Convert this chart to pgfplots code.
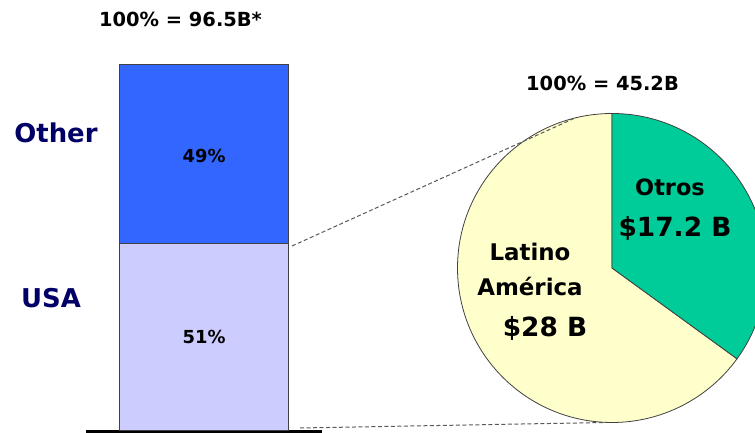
\documentclass[border=0pt]{standalone}
\usepackage{pgfplots}
\pgfplotsset{compat=1.18}
\usepackage{fontspec}
\setmainfont{DejaVu Sans}

\definecolor{otherblue}{HTML}{3366FF}
\definecolor{usalav}{HTML}{CCCCFF}
\definecolor{otrosgreen}{HTML}{00CC99}
\definecolor{latamyellow}{HTML}{FFFFCC}
\definecolor{navy}{HTML}{000066}
\definecolor{txt}{HTML}{1E1E1E}

% pie shares as drawn (Otros vs Latino America)
\def\shareOtros{35}

\begin{document}
\begin{tikzpicture}[x=1bp,y=1bp,font=\bfseries\color{txt}]
\useasboundingbox (0,0) rectangle (755,433);
\clip (0,0) rectangle (755,433);

% stacked bar: USA vs Other
\begin{axis}[
    at={(86bp,3bp)}, anchor=south west,
    scale only axis, width=236bp, height=366bp,
    xmin=0, xmax=1, ymin=0, ymax=100,
    hide axis, clip=false,
    ybar stacked, bar width=169bp,
]
\addplot[fill=usalav, draw=black!75, line width=0.8bp] coordinates {(0.5,51)};
\addplot[fill=otherblue, draw=black!75, line width=0.8bp] coordinates {(0.5,49)};
\coordinate (pUSA) at (axis cs:0.5,25.5);
\coordinate (pOther) at (axis cs:0.5,75);
\draw[line width=2.6bp] (axis cs:0,0) ++(0,-1.5bp) -- ++(236bp,0);
\end{axis}
\node[font=\fontsize{18}{21}\bfseries] at (pUSA) {51\%};
\node[font=\fontsize{18}{21}\bfseries] at (pOther) {49\%};

% pie: 100% = 45.2B
\begin{axis}[
    at={(457.5bp,10.5bp)}, anchor=south west,
    scale only axis, width=309bp, height=309bp,
    xmin=-1, xmax=1, ymin=-1, ymax=1,
    hide axis, clip=false,
]
\pgfmathsetmacro{\aEnd}{90-360*\shareOtros/100}
\draw[fill=latamyellow, draw=black!75, line width=0.8bp]
    (axis cs:0,0) -- (axis cs:0,1) arc[start angle=90, end angle={\aEnd+360}, radius=154.5bp] -- cycle;
\draw[fill=otrosgreen, draw=black!75, line width=0.8bp]
    (axis cs:0,0) -- (axis cs:0,1) arc[start angle=90, end angle=\aEnd, radius=154.5bp] -- cycle;
\end{axis}

% connector lines
\draw[black!65, dash pattern=on 4bp off 2.5bp, line width=1bp] (292,187) -- (575,315);
\draw[black!65, dash pattern=on 4bp off 2.5bp, line width=1bp] (300,5) -- (605,10.5);

% titles and labels
\node[font=\fontsize{19.5}{22}\bfseries] at (180.5,414) {100\% = 96.5B*};
\node[font=\fontsize{19.5}{22}\bfseries] at (602.5,350) {100\% = 45.2B};
\node[font=\fontsize{26}{30}\bfseries, navy] at (56,300) {Other};
\node[font=\fontsize{26}{30}\bfseries, navy] at (51,135) {USA};
\node[font=\fontsize{22.5}{26}\bfseries] at (670,246) {Otros};
\node[font=\fontsize{26.5}{30}\bfseries] at (675,205) {\$17.2 B};
\node[font=\fontsize{23}{26}\bfseries] at (530,181) {Latino};
\node[font=\fontsize{23}{26}\bfseries] at (530,146) {América};
\node[font=\fontsize{26.5}{30}\bfseries] at (545,105) {\$28 B};
\end{tikzpicture}
\end{document}
